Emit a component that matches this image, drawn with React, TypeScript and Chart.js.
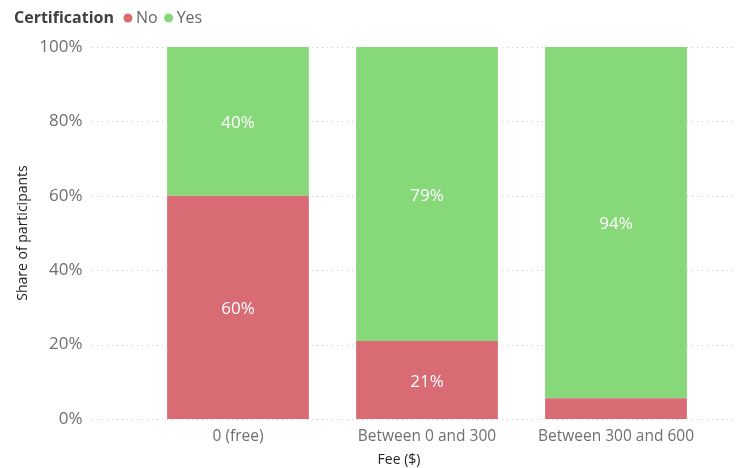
import React, { useEffect, useRef } from "react";
import { Chart, registerables } from "chart.js";

Chart.register(...registerables);

const categories = ["0 (free)", "Between 0 and 300", "Between 300 and 600"];
const noValues = [60, 21, 5.6];
const yesValues = [40, 79, 94.4];
const seriesNames = ["No", "Yes"];
const legendTitle = "Certification";
const yTitle = "Share of participants";
const xTitle = "Fee ($)";

const RED = "#D86B74";
const GREEN = "#87D878";
const FONT = "'Open Sans', 'Noto Sans', sans-serif";

export default function App() {
  const ref = useRef<HTMLCanvasElement | null>(null);
  useEffect(() => {
    if (!ref.current) return;
    const gridPlugin = {
      id: "dottedGrid",
      beforeDatasetsDraw(chart: any) {
        const ctx = chart.ctx;
        const y = chart.scales.y;
        ctx.save();
        ctx.strokeStyle = "#c8c8c8";
        ctx.lineWidth = 1;
        ctx.setLineDash([1, 4]);
        y.ticks.forEach((t: any) => {
          const py = Math.round(y.getPixelForValue(t.value)) + 0.5;
          ctx.beginPath();
          ctx.moveTo(92, py);
          ctx.lineTo(736, py);
          ctx.stroke();
        });
        ctx.restore();
      },
    };
    const labelPlugin = {
      id: "extras",
      afterDatasetsDraw(chart: any) {
        const ctx = chart.ctx;
        ctx.save();
        ctx.fillStyle = "#ffffff";
        ctx.font = `17px ${FONT}`;
        ctx.textAlign = "center";
        ctx.textBaseline = "middle";
        chart.data.datasets.forEach((ds: any, di: number) => {
          const meta = chart.getDatasetMeta(di);
          meta.data.forEach((bar: any, i: number) => {
            const v = ds.data[i];
            if (v < 8) return;
            const cy = (bar.y + bar.base) / 2 + 2;
            ctx.fillText(Math.round(v) + "%", bar.x, cy);
          });
        });
        ctx.restore();
      },
      afterDraw(chart: any) {
        const ctx = chart.ctx;
        ctx.save();
        // legend
        ctx.textBaseline = "middle";
        ctx.textAlign = "left";
        ctx.font = `bold 16px ${FONT}`;
        ctx.fillStyle = "#404040";
        ctx.fillText(legendTitle, 14, 18);
        let x = 14 + ctx.measureText(legendTitle).width + 9.5;
        ctx.font = `16px ${FONT}`;
        const cols = [RED, GREEN];
        seriesNames.forEach((n, i) => {
          ctx.fillStyle = cols[i];
          ctx.beginPath();
          ctx.arc(x + 4.5, 18, 4.5, 0, Math.PI * 2);
          ctx.fill();
          x += 12.5;
          ctx.fillStyle = "#666666";
          ctx.fillText(n, x, 18);
          x += ctx.measureText(n).width + 6.5;
        });
        // axis titles
        ctx.fillStyle = "#252423";
        ctx.font = `14px ${FONT}`;
        ctx.textAlign = "center";
        ctx.fillText(xTitle, 399, 460);
        ctx.translate(23, (chart.chartArea.top + chart.chartArea.bottom) / 2);
        ctx.rotate(-Math.PI / 2);
        ctx.fillText(yTitle, 0, 0);
        ctx.restore();
      },
    };
    const chart = new Chart(ref.current, {
      type: "bar",
      data: {
        labels: categories,
        datasets: [
          { label: seriesNames[0], data: noValues, backgroundColor: RED, borderWidth: 0 },
          { label: seriesNames[1], data: yesValues, backgroundColor: GREEN, borderWidth: 0 },
        ],
      },
      options: {
        responsive: false,
        animation: false,
        layout: { padding: { top: 47, right: 29.5, left: 0, bottom: 0 } },
        plugins: { legend: { display: false }, tooltip: { enabled: false } },
        datasets: { bar: { barPercentage: 1, categoryPercentage: 0.75 } },
        scales: {
          x: {
            stacked: true,
            grid: { display: false, drawTicks: false },
            border: { display: false },
            ticks: { color: "#6f6f6f", font: { family: FONT, size: 15.5 }, padding: 8, maxRotation: 0 },
            afterFit(s: any) {
              s.height = 49;
              s.paddingLeft = 0;
              s.paddingRight = 0;
            },
          },
          y: {
            stacked: true,
            min: 0,
            max: 100,
            grid: { display: false, drawTicks: false },
            border: { display: false },
            ticks: {
              stepSize: 20,
              color: "#6f6f6f",
              font: { family: FONT, size: 17 },
              padding: 61,
              callback: (v: any) => v + "%",
            },
            afterFit(s: any) {
              s.width = 143.5;
              s.paddingTop = 0;
              s.paddingBottom = 0;
            },
          },
        },
      },
      plugins: [gridPlugin, labelPlugin],
    } as any);
    return () => chart.destroy();
  }, []);
  return (
    <div style={{ position: "fixed", left: 0, top: 0, width: 740, height: 468, background: "#fff" }}>
      <canvas ref={ref} width={740} height={468} />
    </div>
  );
}
